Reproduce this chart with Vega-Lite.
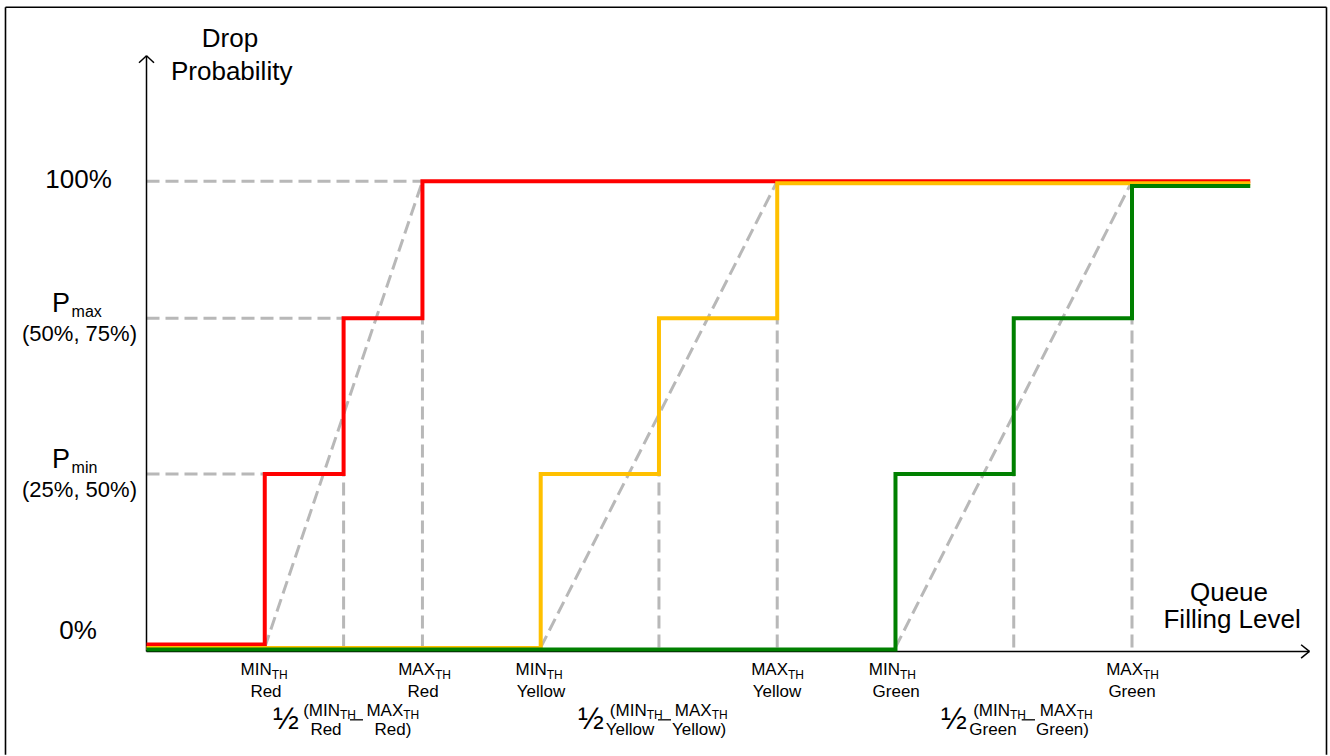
{
  "$schema": "https://vega.github.io/schema/vega-lite/v6.json",
  "width": 1330,
  "height": 756,
  "padding": 0,
  "autosize": {"type": "fit", "contains": "padding"},
  "background": "white",
  "config": {"view": {"stroke": null}},
  "datasets": {
    "frame": [
      {"x": -3.577, "y": 137.35, "x2": 29.934, "y2": 137.35},
      {"x": -3.577, "y": 137.35, "x2": -3.577, "y2": -23},
      {"x": 29.934, "y": 137.35, "x2": 29.934, "y2": -23}
    ],
    "axes": [
      {"x": 0, "y": -0.855, "x2": 0, "y2": 126.92},
      {"x": -0.19, "y": 125.42, "x2": 0, "y2": 126.92},
      {"x": 0.19, "y": 125.42, "x2": 0, "y2": 126.92},
      {"x": 0, "y": -0.855, "x2": 29.5, "y2": -0.855},
      {"x": 29.29, "y": 0.58, "x2": 29.5, "y2": -0.855},
      {"x": 29.29, "y": -2.29, "x2": 29.5, "y2": -0.855}
    ],
    "guides": [
      {"x": 0, "y": 100, "x2": 7, "y2": 100},
      {"x": 0, "y": 70.6, "x2": 5, "y2": 70.6},
      {"x": 0, "y": 37.2, "x2": 3, "y2": 37.2},
      {"x": 5, "y": 0, "x2": 5, "y2": 37.2},
      {"x": 7, "y": 0, "x2": 7, "y2": 70.6},
      {"x": 13, "y": 0, "x2": 13, "y2": 37.2},
      {"x": 16, "y": 0, "x2": 16, "y2": 70.6},
      {"x": 22, "y": 0, "x2": 22, "y2": 37.2},
      {"x": 25, "y": 0, "x2": 25, "y2": 70.6},
      {"x": 3, "y": 0, "x2": 7, "y2": 100},
      {"x": 10, "y": 0, "x2": 16, "y2": 100},
      {"x": 19, "y": 0, "x2": 25, "y2": 100}
    ],
    "steps": [
      {"series": "Red", "x": 0, "y": 0.64},
      {"series": "Red", "x": 3, "y": 37.2},
      {"series": "Red", "x": 5, "y": 70.6},
      {"series": "Red", "x": 7, "y": 100},
      {"series": "Red", "x": 28, "y": 100},
      {"series": "Yellow", "x": 0, "y": -0.1},
      {"series": "Yellow", "x": 10, "y": 37.2},
      {"series": "Yellow", "x": 13, "y": 70.6},
      {"series": "Yellow", "x": 16, "y": 99.57},
      {"series": "Yellow", "x": 28, "y": 99.57},
      {"series": "Green", "x": 0, "y": -0.45},
      {"series": "Green", "x": 19, "y": 37.2},
      {"series": "Green", "x": 22, "y": 70.6},
      {"series": "Green", "x": 25, "y": 99.0},
      {"series": "Green", "x": 28, "y": 99.0}
    ],
    "titles": [
      {"label": "Drop", "x": 2.118, "y": 128.74},
      {"label": "Probability", "x": 2.161, "y": 121.69},
      {"label": "100%", "x": -1.725, "y": 98.57},
      {"label": "0%", "x": -1.738, "y": 1.774},
      {"label": "Queue", "x": 27.46, "y": 9.94},
      {"label": "Filling Level", "x": 27.54, "y": 4.06}
    ],
    "pLetters": [
      {"label": "P", "x": -2.40, "y": 71.94},
      {"label": "P", "x": -2.40, "y": 38.46}
    ],
    "pSubs": [
      {"label": "max", "x": -1.90, "y": 70.88},
      {"label": "min", "x": -1.90, "y": 37.39}
    ],
    "ranges": [
      {"label": "(50%, 75%)", "x": -1.70, "y": 65.81},
      {"label": "(25%, 50%)", "x": -1.70, "y": 32.37}
    ],
    "thMain": [
      {"label": "MIN", "x": 3.176, "y": -5.98},
      {"label": "MAX", "x": 7.319, "y": -5.98},
      {"label": "MIN", "x": 10.152, "y": -5.98},
      {"label": "MAX", "x": 16.273, "y": -5.98},
      {"label": "MIN", "x": 19.115, "y": -5.98},
      {"label": "MAX", "x": 25.279, "y": -5.98},
      {"label": "(MIN", "x": 4.909, "y": -14.81},
      {"label": "MAX", "x": 6.514, "y": -14.81},
      {"label": "(MIN", "x": 12.689, "y": -14.81},
      {"label": "MAX", "x": 14.338, "y": -14.81},
      {"label": "(MIN", "x": 21.905, "y": -14.81},
      {"label": "MAX", "x": 23.597, "y": -14.81}
    ],
    "thSubs": [
      {"label": "TH", "x": 3.176, "y": -6.84},
      {"label": "TH", "x": 7.319, "y": -6.84},
      {"label": "TH", "x": 10.152, "y": -6.84},
      {"label": "TH", "x": 16.273, "y": -6.84},
      {"label": "TH", "x": 19.115, "y": -6.84},
      {"label": "TH", "x": 25.279, "y": -6.84},
      {"label": "TH", "x": 4.909, "y": -15.38},
      {"label": "TH", "x": 6.514, "y": -15.38},
      {"label": "TH", "x": 12.689, "y": -15.38},
      {"label": "TH", "x": 14.338, "y": -15.38},
      {"label": "TH", "x": 21.905, "y": -15.38},
      {"label": "TH", "x": 23.597, "y": -15.38}
    ],
    "names": [
      {"label": "Red", "x": 3.031, "y": -10.68},
      {"label": "Red", "x": 7.014, "y": -10.68},
      {"label": "Yellow", "x": 10.007, "y": -10.68},
      {"label": "Yellow", "x": 15.995, "y": -10.68},
      {"label": "Green", "x": 19.018, "y": -10.68},
      {"label": "Green", "x": 25.0, "y": -10.68},
      {"label": "Red", "x": 4.553, "y": -18.87},
      {"label": "Red)", "x": 6.253, "y": -18.87},
      {"label": "Yellow", "x": 12.265, "y": -18.87},
      {"label": "Yellow)", "x": 14.016, "y": -18.87},
      {"label": "Green", "x": 21.473, "y": -18.87},
      {"label": "Green)", "x": 23.237, "y": -18.87}
    ],
    "halves": [
      {"label": "½", "x": 3.539, "y": -17.46},
      {"label": "½", "x": 11.276, "y": -17.46},
      {"label": "½", "x": 20.484, "y": -17.46}
    ],
    "dashes": [
      {"x": 5.162, "y": -15.53, "x2": 5.492, "y2": -15.53},
      {"x": 12.975, "y": -15.53, "x2": 13.305, "y2": -15.53},
      {"x": 22.202, "y": -15.53, "x2": 22.539, "y2": -15.53}
    ]
  },
  "encoding": {
    "x": {"field": "x", "type": "quantitative", "axis": null,
          "scale": {"domain": [-3.7164, 30.0228], "nice": false, "zero": false}},
    "y": {"field": "y", "type": "quantitative", "axis": null,
          "scale": {"domain": [-22.65, 138.89], "nice": false, "zero": false}}
  },
  "layer": [
    {"data": {"name": "frame"}, "mark": {"type": "rule", "color": "black", "strokeWidth": 1.6},
     "encoding": {"x2": {"field": "x2"}, "y2": {"field": "y2"}}},
    {"data": {"name": "guides"}, "mark": {"type": "rule", "color": "#B8B8B8", "strokeWidth": 3, "strokeDash": [13, 6]},
     "encoding": {"x2": {"field": "x2"}, "y2": {"field": "y2"}}},
    {"data": {"name": "axes"}, "mark": {"type": "rule", "color": "black", "strokeWidth": 1.5},
     "encoding": {"x2": {"field": "x2"}, "y2": {"field": "y2"}}},
    {"data": {"name": "steps"}, "transform": [{"filter": "datum.series === 'Red'"}],
     "mark": {"type": "line", "interpolate": "step-after", "strokeWidth": 4, "strokeJoin": "miter"},
     "encoding": {"color": {"field": "series", "type": "nominal", "legend": null,
       "scale": {"domain": ["Red", "Yellow", "Green"], "range": ["#FF0000", "#FFC000", "#008000"]}}}},
    {"data": {"name": "steps"}, "transform": [{"filter": "datum.series === 'Yellow'"}],
     "mark": {"type": "line", "interpolate": "step-after", "strokeWidth": 4, "strokeJoin": "miter"},
     "encoding": {"color": {"field": "series", "type": "nominal", "legend": null}}},
    {"data": {"name": "steps"}, "transform": [{"filter": "datum.series === 'Green'"}],
     "mark": {"type": "line", "interpolate": "step-after", "strokeWidth": 4, "strokeJoin": "miter"},
     "encoding": {"color": {"field": "series", "type": "nominal", "legend": null}}},
    {"data": {"name": "titles"}, "mark": {"type": "text", "font": "Liberation Sans", "fontSize": 26, "align": "center", "baseline": "alphabetic", "color": "black"},
     "encoding": {"text": {"field": "label"}}},
    {"data": {"name": "pLetters"}, "mark": {"type": "text", "font": "Liberation Sans", "fontSize": 27, "align": "left", "baseline": "alphabetic", "color": "black"},
     "encoding": {"text": {"field": "label"}}},
    {"data": {"name": "pSubs"}, "mark": {"type": "text", "font": "Liberation Sans", "fontSize": 16, "align": "left", "baseline": "alphabetic", "color": "black"},
     "encoding": {"text": {"field": "label"}}},
    {"data": {"name": "ranges"}, "mark": {"type": "text", "font": "Liberation Sans", "fontSize": 22, "align": "center", "baseline": "alphabetic", "color": "black"},
     "encoding": {"text": {"field": "label"}}},
    {"data": {"name": "thMain"}, "mark": {"type": "text", "font": "Liberation Sans", "fontSize": 17, "align": "right", "baseline": "alphabetic", "color": "black"},
     "encoding": {"text": {"field": "label"}}},
    {"data": {"name": "thSubs"}, "mark": {"type": "text", "font": "Liberation Sans", "fontSize": 12, "align": "left", "baseline": "alphabetic", "color": "black"},
     "encoding": {"text": {"field": "label"}}},
    {"data": {"name": "names"}, "mark": {"type": "text", "font": "Liberation Sans", "fontSize": 17, "align": "center", "baseline": "alphabetic", "color": "black"},
     "encoding": {"text": {"field": "label"}}},
    {"data": {"name": "halves"}, "mark": {"type": "text", "font": "Liberation Sans", "fontSize": 31, "align": "center", "baseline": "alphabetic", "color": "black"},
     "encoding": {"text": {"field": "label"}}},
    {"data": {"name": "dashes"}, "mark": {"type": "rule", "color": "black", "strokeWidth": 1.3},
     "encoding": {"x2": {"field": "x2"}, "y2": {"field": "y2"}}}
  ]
}
